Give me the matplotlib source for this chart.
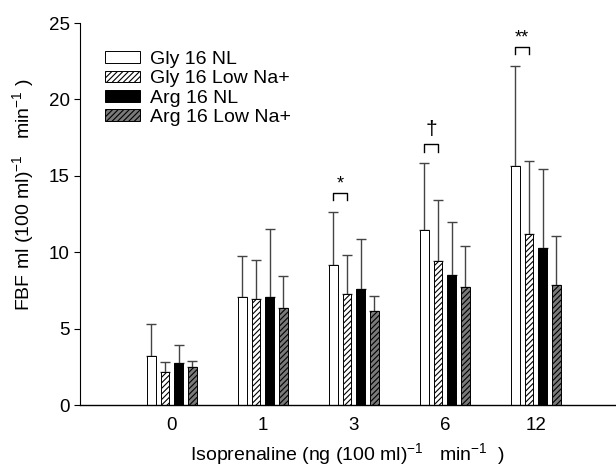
import matplotlib
matplotlib.use("Agg")
import matplotlib.pyplot as plt
import numpy as np

plt.rcParams['font.family'] = ['Liberation Sans', 'DejaVu Sans']
plt.rcParams['mathtext.fontset'] = 'custom'
plt.rcParams['mathtext.rm'] = 'Liberation Sans'
plt.rcParams['mathtext.default'] = 'regular'
plt.rcParams['hatch.linewidth'] = 0.8

doses = ['0', '1', '3', '6', '12']
series = ['Gly 16 NL', 'Gly 16 Low Na+', 'Arg 16 NL', 'Arg 16 Low Na+']
gly_nl = [3.2, 7.07, 9.16, 11.47, 15.62]
gly_nl_err = [2.1, 2.68, 3.46, 4.35, 6.58]
gly_low = [2.17, 6.96, 7.29, 9.42, 11.18]
gly_low_err = [0.66, 2.53, 2.54, 4.01, 4.81]
arg_nl = [2.72, 7.07, 7.57, 8.49, 10.27]
arg_nl_err = [1.18, 4.48, 3.27, 3.46, 5.18]
arg_low = [2.48, 6.35, 6.14, 7.7, 7.85]
arg_low_err = [0.39, 2.09, 1.02, 2.72, 3.23]
sig_groups = [2, 3, 4]
sig_labels = ['*', '\u2020', '**']
sig_heights = [13.9, 17.08, 23.45]

values = [gly_nl, gly_low, arg_nl, arg_low]
errors = [gly_nl_err, gly_low_err, arg_nl_err, arg_low_err]
faces = ['white', 'white', 'black', '#7a7a7a']
hatches = [None, '//////', None, '//////']

FT = 13.5
FL = 14
fig = plt.figure(figsize=(6.16, 4.66), dpi=100)
ax = fig.add_axes([80/616, 1-405/466, 1-80/616, 382/466])

x = np.arange(len(doses))
pitch = 0.15
width = 0.095
offsets = (np.arange(4) - 1.5) * pitch
for i in range(4):
    ax.bar(x + offsets[i], values[i], width, color=faces[i], edgecolor='black',
           linewidth=0.7, hatch=hatches[i], label=series[i], zorder=2)
    ax.errorbar(x + offsets[i], values[i], yerr=[np.zeros(len(doses)), errors[i]],
                fmt='none', ecolor='#444444', elinewidth=1.0, capsize=3.6,
                capthick=1.0, zorder=1)

for g, lab, h in zip(sig_groups, sig_labels, sig_heights):
    x0 = g + offsets[0]
    x1 = g + offsets[1]
    ax.plot([x0, x0, x1, x1], [h - 0.5, h, h, h - 0.5], color='black', lw=1.0)
    if lab == '\u2020':
        ax.text((x0 + x1) / 2, h + 0.3, lab, ha='center', va='bottom', fontsize=15)
    else:
        ax.text((x0 + x1) / 2, h + 0.0, lab, ha='center', va='bottom', fontsize=13)

ax.set_xlim(-1.01, 4.88)
ax.set_ylim(0, 25)
ax.set_yticks([0, 5, 10, 15, 20, 25])
ax.set_xticks(x)
ax.set_xticklabels(doses, fontsize=FT)
ax.tick_params(axis='x', length=0, pad=9)
ax.tick_params(axis='y', labelsize=FT, length=4.3, width=0.8, pad=3)
ax.spines['top'].set_visible(False)
ax.spines['right'].set_visible(False)
ax.spines['left'].set_linewidth(0.8)
ax.spines['bottom'].set_linewidth(1.0)

ax.set_ylabel(r'FBF ml (100 ml)$^{-1}$   min$^{-1}$ )', fontsize=FL)
ax.yaxis.set_label_coords(-0.082, 0.55)
ax.set_xlabel(r'Isoprenaline (ng (100 ml)$^{-1}$   min$^{-1}$  )', fontsize=FL, labelpad=5)

ax.legend(loc='upper left', bbox_to_anchor=(25/536, (405-51)/382), frameon=False,
          fontsize=FL, handlelength=1.8, handleheight=0.55, labelspacing=0.12,
          handletextpad=0.5, borderpad=0, borderaxespad=0)

fig.savefig('out.png', dpi=100)
